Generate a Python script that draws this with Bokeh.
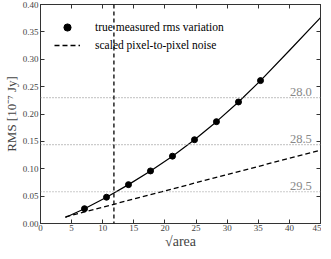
from bokeh.plotting import figure
from bokeh.models import (Range1d, LinearAxis, FixedTicker, Span, Label, Legend,
                          LegendItem, NumeralTickFormatter)
from bokeh.embed import file_html
from bokeh.resources import INLINE

# ---- data ----
sqrt_area = [7.07, 10.61, 14.14, 17.68, 21.21, 24.75, 28.28, 31.82, 35.36]
rms_measured = [0.027, 0.048, 0.071, 0.096, 0.123, 0.153, 0.186, 0.222, 0.261]
fit_x = [4.0, 7.07, 10.61, 14.14, 17.68, 21.21, 24.75, 28.28, 31.82, 35.36, 40.0, 45.0]
fit_y = [0.011, 0.027, 0.048, 0.071, 0.096, 0.123, 0.153, 0.186, 0.222, 0.261, 0.316, 0.376]
noise_x = [4.0, 45.0]
noise_y = [0.012, 0.134]
cut_x = 11.8
level_y = [0.23, 0.144, 0.058]
level_labels = ["28.0", "28.5", "29.5"]
x_ticks = [0, 5, 10, 15, 20, 25, 30, 35, 40, 45]
y_ticks = [0.0, 0.05, 0.10, 0.15, 0.20, 0.25, 0.30, 0.35, 0.40]

SERIF = "Liberation Serif"
AX = "#333333"
TXT = "#444444"

p = figure(output_backend="svg", toolbar_location=None,
           x_range=Range1d(0, 45), y_range=Range1d(0, 0.40),
           frame_width=280, frame_height=219,
           min_border_left=34, min_border_right=1, min_border_top=4, min_border_bottom=0)
p.grid.visible = False
p.outline_line_color = AX
p.background_fill_color = "white"
p.border_fill_color = "white"

def style_axis(ax, labels=True):
    ax.axis_line_color = AX
    ax.major_tick_line_color = AX
    ax.minor_tick_line_color = None
    ax.major_tick_in = 4
    ax.major_tick_out = 0
    ax.major_label_text_font = SERIF
    ax.major_label_text_font_size = "9px" if labels else "1px"
    ax.major_label_text_color = TXT if labels else None
    ax.major_label_standoff = 2 if labels else 0
    ax.axis_label_text_font = SERIF
    ax.axis_label_text_color = TXT
    ax.axis_label_text_font_style = "normal"

xa = p.xaxis[0]
ya = p.yaxis[0]
xa.ticker = FixedTicker(ticks=x_ticks)
ya.ticker = FixedTicker(ticks=y_ticks)
ya.formatter = NumeralTickFormatter(format="0.00")
style_axis(xa)
style_axis(ya)
xa.major_label_standoff = 1
xa.axis_label = "√area"
xa.axis_label_text_font_size = "14px"
xa.axis_label_standoff = 0
ya.axis_label = "RMS [10⁻⁷ Jy]"
ya.axis_label_text_font_size = "13px"
ya.axis_label_standoff = 1

top = LinearAxis(ticker=FixedTicker(ticks=x_ticks))
right = LinearAxis(ticker=FixedTicker(ticks=y_ticks))
for ax in (top, right):
    style_axis(ax, labels=False)
p.add_layout(top, "above")
p.add_layout(right, "right")

# horizontal level lines with labels
for yv, lab in zip(level_y, level_labels):
    p.add_layout(Span(location=yv, dimension="width", line_color="#999999",
                      line_dash="1 2", line_width=1.2))
    p.add_layout(Label(x=43.6, y=yv, text=lab, text_align="right",
                       text_baseline="bottom", text_font=SERIF, text_font_size="12.5px",
                       text_color="#888888", y_offset=2))

# vertical cut line
p.add_layout(Span(location=cut_x, dimension="height", line_color="black",
                  line_dash="4 3", line_width=1.3))

fit = p.line(fit_x, fit_y, line_color="black", line_width=1.2)
pts = p.scatter(sqrt_area, rms_measured, size=6, color="black")
noise = p.line(noise_x, noise_y, line_color="black", line_width=1.3, line_dash="5 3")

legend = Legend(items=[LegendItem(label="true measured rms variation", renderers=[pts]),
                       LegendItem(label="scaled pixel-to-pixel noise", renderers=[noise])],
                location="top_left", margin=14, padding=0, spacing=0,
                glyph_width=26, glyph_height=18, label_height=18, label_standoff=15,
                label_text_font=SERIF, label_text_font_size="11.5px",
                label_text_color="black", label_text_baseline="middle",
                border_line_color=None, background_fill_alpha=0)
p.add_layout(legend, "center")

open("out.html", "w").write(file_html(p, INLINE))
